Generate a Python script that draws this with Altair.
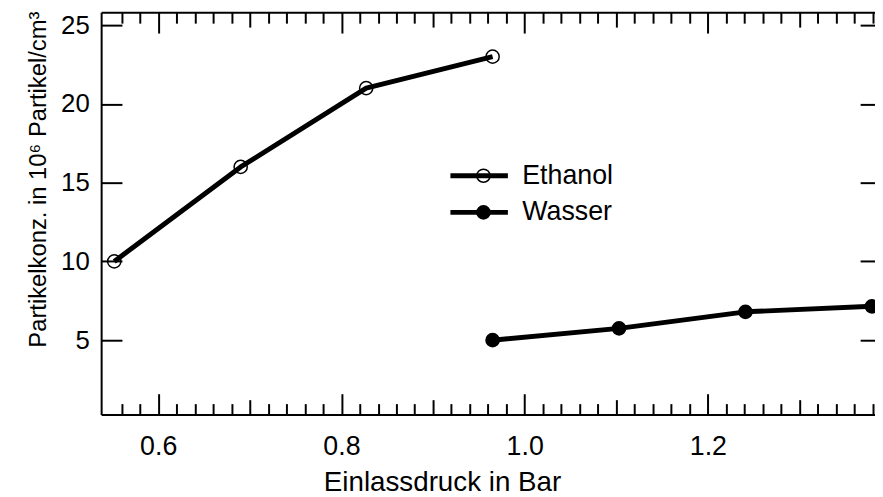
import altair as alt
import pandas as pd

# ---- data ----
ethanol_x = [0.552, 0.690, 0.827, 0.965]
ethanol_y = [10.0, 16.0, 21.0, 23.0]
wasser_x = [0.965, 1.103, 1.241, 1.379]
wasser_y = [5.0, 5.75, 6.8, 7.15]
series_names = ["Ethanol", "Wasser"]

x_labels = [0.6, 0.8, 1.0, 1.2]
x_minor = [round(0.56 + 0.02 * k, 2) for k in range(42)]
y_ticks = [5, 10, 15, 20, 25]

x_title = "Einlassdruck in Bar"
y_title = "Partikelkonz. in 10\u2076 Partikel/cm\u00b3"

df = pd.DataFrame({
    "x": ethanol_x + wasser_x,
    "y": ethanol_y + wasser_y,
    "series": [series_names[0]] * len(ethanol_x) + [series_names[1]] * len(wasser_x),
})
df["marker"] = df["series"]

W, H = 781, 406
FONT = "Liberation Sans"

xs = alt.Scale(domain=[0.5377, 1.3824], nice=False, zero=False)
ys = alt.Scale(domain=[0.28, 25.82], nice=False, zero=False)

tick_size_x = {
    "condition": [
        {"test": "abs(datum.value*5 - round(datum.value*5)) < 0.001", "value": 21},
        {"test": "abs(datum.value*10 - round(datum.value*10)) < 0.001", "value": 15},
    ],
    "value": 11,
}

base = alt.Chart(df)

line = base.mark_line(strokeWidth=5, strokeJoin="round").encode(
    x=alt.X("x:Q", scale=xs, axis=alt.Axis(
        orient="bottom", values=x_labels, format=".1f", ticks=False, domain=False, grid=False,
        labelFontSize=27, labelFont=FONT, labelColor="black", labelPadding=19, labelFlush=False,
        title=x_title, titleFontSize=28, titleFont=FONT, titleFontWeight="normal", titleColor="black",
        titleX=344, titleY=77, titleAlign="center", titleBaseline="alphabetic")),
    y=alt.Y("y:Q", scale=ys, axis=alt.Axis(
        orient="left", values=y_ticks, ticks=False, domain=False, grid=False,
        labelFontSize=26, labelFont=FONT, labelColor="black", labelPadding=12, labelFlush=False,
        title=y_title, titleFontSize=24, titleFont=FONT, titleFontWeight="normal", titleColor="black",
        titleAngle=270, titleX=-56, titleY=338, titleAlign="left", titleBaseline="alphabetic")),
    color=alt.Color("series:N", scale=alt.Scale(range=["black", "black"]),
                    legend=alt.Legend(orient="none", legendX=350, legendY=146.5, title=None,
                                      symbolType="stroke", symbolSize=3364, symbolStrokeWidth=5,
                                      labelFontSize=27, labelFont=FONT, labelColor="black",
                                      labelOffset=12, clipHeight=37, rowPadding=0, padding=0,
                                      zindex=1)),
)

points = base.mark_point(shape="circle", filled=True, size=177, stroke="black",
                         strokeWidth=1.5, opacity=1).encode(
    x=alt.X("x:Q", scale=xs, axis=alt.Axis(
        orient="top", offset=-H, values=x_minor, labels=False, grid=False, title=None,
        domain=True, domainColor="black", domainWidth=2,
        ticks=True, tickColor="black", tickWidth=2, tickSize=tick_size_x)),
    y=alt.Y("y:Q", scale=ys, axis=alt.Axis(
        orient="right", offset=-W, values=y_ticks, labels=False, grid=False, title=None,
        domain=True, domainColor="black", domainWidth=2,
        ticks=True, tickColor="black", tickWidth=2, tickSize=21)),
    fill=alt.Fill("marker:N", scale=alt.Scale(range=["transparent", "black"]),
                  legend=alt.Legend(orient="none", legendX=350, legendY=146.5, title=None,
                                    symbolType="circle", symbolSize=177, symbolStrokeColor="black",
                                    symbolStrokeWidth=1.5, symbolOffset=22.35, symbolOpacity=1,
                                    labelExpr="''", labelFontSize=27, labelFont=FONT,
                                    labelOffset=12, clipHeight=37, rowPadding=0, padding=0,
                                    zindex=2)),
)

frame = base.mark_point(opacity=0).encode(
    x=alt.X("x:Q", scale=xs, axis=alt.Axis(
        orient="bottom", offset=-H, values=x_minor, labels=False, grid=False, title=None,
        domain=True, domainColor="black", domainWidth=2,
        ticks=True, tickColor="black", tickWidth=2, tickSize=tick_size_x)),
    y=alt.Y("y:Q", scale=ys, axis=alt.Axis(
        orient="left", offset=-W, values=y_ticks, labels=False, grid=False, title=None,
        domain=False, ticks=True, tickColor="black", tickWidth=2, tickSize=15)),
)

chart = alt.layer(line, points, frame).resolve_axis(
    x="independent", y="independent"
).properties(
    width=W, height=H,
    autosize=alt.AutoSizeParams(type="none"),
    padding={"left": 94, "top": 2, "right": 0, "bottom": 87},
).configure_view(strokeWidth=0)

chart.save("out.html", embed_options={"renderer": "svg", "actions": False})
